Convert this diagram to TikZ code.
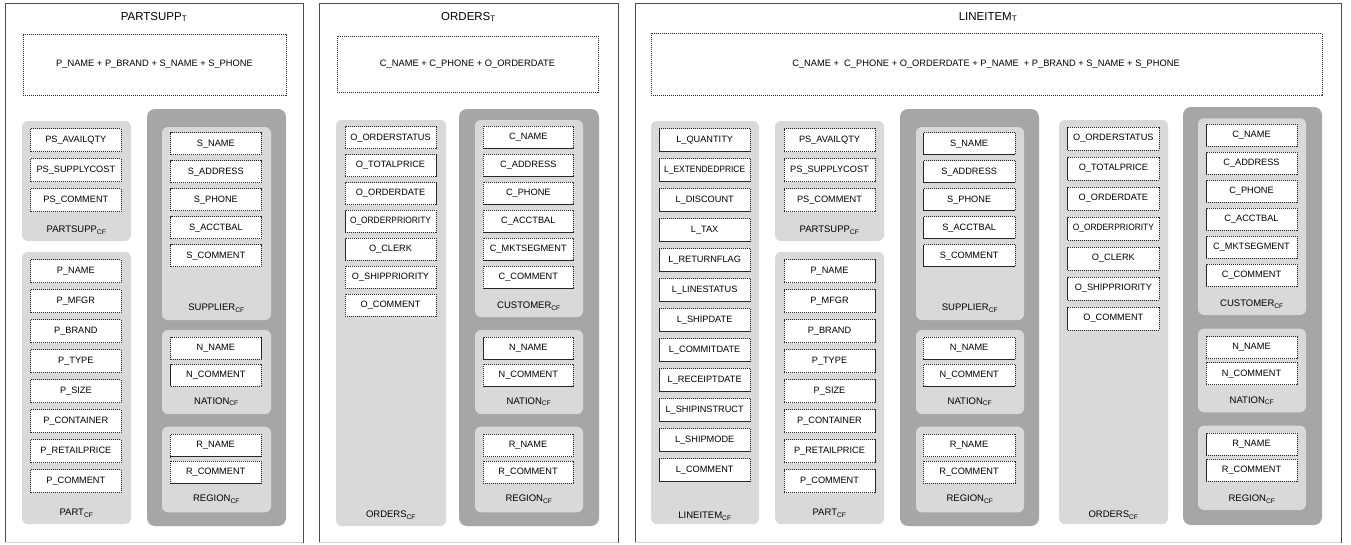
\documentclass[tikz,border=0pt]{standalone}
\usepackage{fontspec}
\setmainfont{Liberation Sans}
\definecolor{grpdark}{HTML}{A6A6A6}
\definecolor{grplight}{HTML}{D9D9D9}
\definecolor{frameline}{HTML}{4D4D4D}
\definecolor{frameedge}{HTML}{D0D0D0}

% a rectangle given by its corners (x1,y1)-(x2,y2)
\newcommand\grpbox[6]{\node[#6, minimum width={#4-#2}, minimum height={#5-#3}] (#1) at ({(#2+#4)/2},{(#3+#5)/2}) {};}
% attribute text, narrowed when it would not fit inside its box
\newsavebox\lblbox
\newcommand\fitlbl[1]{\sbox\lblbox{#1}\ifdim\wd\lblbox>81pt \resizebox{81pt}{\height}{\usebox\lblbox}\else\usebox\lblbox\fi}
% a column of dashed attribute boxes: name, xleft, xright, ytop, pitch, height, list
\newcommand\fieldcol[7]{%
  \foreach \t [count=\i from 0] in {#7} {
    \node[field, minimum width={#3-#2}, minimum height={#6}] (#1-\i) at ({(#2+#3)/2},{#4+\i*#5+#6/2}) {\fitlbl{\t}};
  }}
% open side of a panel
\newcommand\paneledge[1]{\draw[frameedge, line width=0.8pt] (#1.south west) -- (#1.south east);}

\begin{document}
\begin{tikzpicture}[x=1pt,y=-1pt,
  every node/.style={inner sep=0pt, outer sep=0pt},
  panel/.style={draw=frameline, line width=0.8pt, fill=white, rectangle},
  keybox/.style={draw=black!85, line width=0.5pt, dash pattern=on 1.2pt off 0.8pt, fill=white, rectangle},
  field/.style={draw=black!85, line width=0.5pt, dash pattern=on 1.2pt off 0.8pt, fill=white, rectangle, font=\fontsize{9.2}{11}\selectfont},
  darkgrp/.style={fill=grpdark, rounded corners=8pt, rectangle},
  lightgrp/.style={fill=grplight, rounded corners=6pt, rectangle},
  grplbl/.style={font=\fontsize{9.5}{11}\selectfont},
  ttl/.style={font=\fontsize{11.5}{13}\selectfont},
  keytxt/.style={font=\fontsize{9.3}{11}\selectfont}]

\useasboundingbox (0,0) rectangle (1351,544);
\fill[white] (0,0) rectangle (1351,544);

% ---------------- PARTSUPP_T ----------------
\grpbox{p1}{5}{3}{303}{542}{panel}
\paneledge{p1}
\node[ttl] (p1-title) at (154,17) {PARTSUPP\textsubscript{T}};
\grpbox{p1-key}{23}{34}{286}{95}{keybox}
\node[keytxt] (p1-keytxt) at (154.5,64.5) {P\_NAME + P\_BRAND + S\_NAME + S\_PHONE};

\grpbox{p1-ps}{22}{121}{131}{241}{lightgrp}
\fieldcol{p1-psf}{30.7}{121}{128.7}{30}{23}{PS\_AVAILQTY,PS\_SUPPLYCOST,PS\_COMMENT}
\node[grplbl] (p1-ps-lbl) at (76.5,230) {PARTSUPP\textsubscript{CF}};

\grpbox{p1-pa}{22}{252}{131}{524}{lightgrp}
\fieldcol{p1-paf}{30.7}{121}{259.5}{30}{23}{P\_NAME,P\_MFGR,P\_BRAND,P\_TYPE,P\_SIZE,P\_CONTAINER,P\_RETAILPRICE,P\_COMMENT}
\node[grplbl] (p1-pa-lbl) at (76.5,513) {PART\textsubscript{CF}};

\grpbox{p1-dk}{147}{109}{286}{526}{darkgrp}
\grpbox{p1-su}{162}{127}{271}{320}{lightgrp}
\fieldcol{p1-suf}{170.7}{261}{132.7}{28}{22}{S\_NAME,S\_ADDRESS,S\_PHONE,S\_ACCTBAL,S\_COMMENT}
\node[grplbl] (p1-su-lbl) at (216.5,308) {SUPPLIER\textsubscript{CF}};
\grpbox{p1-na}{162}{330}{271}{414}{lightgrp}
\fieldcol{p1-naf}{170.7}{261}{337.3}{26.7}{22}{N\_NAME,N\_COMMENT}
\node[grplbl] (p1-na-lbl) at (216.5,401.7) {NATION\textsubscript{CF}};
\grpbox{p1-re}{162}{426.7}{271}{512.3}{lightgrp}
\fieldcol{p1-ref}{170.3}{261}{434.3}{26.7}{22.4}{R\_NAME,R\_COMMENT}
\node[grplbl] (p1-re-lbl) at (216.5,499.3) {REGION\textsubscript{CF}};

% ---------------- ORDERS_T ----------------
\grpbox{p2}{319}{3}{618}{542}{panel}
\paneledge{p2}
\node[ttl] (p2-title) at (468.5,17) {ORDERS\textsubscript{T}};
\grpbox{p2-key}{337}{36}{598}{92}{keybox}
\node[keytxt] (p2-keytxt) at (467.5,64.5) {C\_NAME + C\_PHONE + O\_ORDERDATE};

\grpbox{p2-or}{336}{120}{446}{526}{lightgrp}
\fieldcol{p2-orf}{345}{436}{126.7}{27.9}{22}{O\_ORDERSTATUS,O\_TOTALPRICE,O\_ORDERDATE,O\_ORDERPRIORITY,O\_CLERK,O\_SHIPPRIORITY,O\_COMMENT}
\node[grplbl] (p2-or-lbl) at (391,515) {ORDERS\textsubscript{CF}};

\grpbox{p2-dk}{459}{109}{599}{526}{darkgrp}
\grpbox{p2-cu}{475}{120}{583}{317}{lightgrp}
\fieldcol{p2-cuf}{483.3}{573.3}{126}{28}{22}{C\_NAME,C\_ADDRESS,C\_PHONE,C\_ACCTBAL,C\_MKTSEGMENT,C\_COMMENT}
\node[grplbl] (p2-cu-lbl) at (529,306) {CUSTOMER\textsubscript{CF}};
\grpbox{p2-na}{475}{330}{583}{414}{lightgrp}
\fieldcol{p2-naf}{483.3}{573.3}{337.3}{26.7}{22}{N\_NAME,N\_COMMENT}
\node[grplbl] (p2-na-lbl) at (529,401.7) {NATION\textsubscript{CF}};
\grpbox{p2-re}{475}{426.7}{583}{512.3}{lightgrp}
\fieldcol{p2-ref}{483}{573}{434.3}{26.7}{22.4}{R\_NAME,R\_COMMENT}
\node[grplbl] (p2-re-lbl) at (529,499.3) {REGION\textsubscript{CF}};

% ---------------- LINEITEM_T ----------------
\grpbox{p3}{635}{3}{1341}{542}{panel}
\paneledge{p3}
\node[ttl] (p3-title) at (988,17) {LINEITEM\textsubscript{T}};
\grpbox{p3-key}{651}{33.3}{1322}{95.7}{keybox}
\node[keytxt] (p3-keytxt) at (986,64.5) {C\_NAME + \ C\_PHONE + O\_ORDERDATE + P\_NAME \ + P\_BRAND + S\_NAME + S\_PHONE};

\grpbox{p3-li}{651}{121}{759}{524}{lightgrp}
\fieldcol{p3-lif}{659.3}{750}{128.7}{30}{23}{L\_QUANTITY,L\_EXTENDEDPRICE,L\_DISCOUNT,L\_TAX,L\_RETURNFLAG,L\_LINESTATUS,L\_SHIPDATE,L\_COMMITDATE,L\_RECEIPTDATE,L\_SHIPINSTRUCT,L\_SHIPMODE,L\_COMMENT}
\node[grplbl] (p3-li-lbl) at (705,516) {LINEITEM\textsubscript{CF}};

\grpbox{p3-ps}{775}{121}{884}{241}{lightgrp}
\fieldcol{p3-psf}{784}{875}{128.7}{30}{23}{PS\_AVAILQTY,PS\_SUPPLYCOST,PS\_COMMENT}
\node[grplbl] (p3-ps-lbl) at (829.5,230) {PARTSUPP\textsubscript{CF}};

\grpbox{p3-pa}{775}{252}{884}{524}{lightgrp}
\fieldcol{p3-paf}{784}{875}{259.5}{30}{23}{P\_NAME,P\_MFGR,P\_BRAND,P\_TYPE,P\_SIZE,P\_CONTAINER,P\_RETAILPRICE,P\_COMMENT}
\node[grplbl] (p3-pa-lbl) at (829.5,513) {PART\textsubscript{CF}};

\grpbox{p3-dk1}{900}{109}{1039}{526}{darkgrp}
\grpbox{p3-su}{916}{127}{1024}{320}{lightgrp}
\fieldcol{p3-suf}{923.3}{1015}{132.7}{28}{22}{S\_NAME,S\_ADDRESS,S\_PHONE,S\_ACCTBAL,S\_COMMENT}
\node[grplbl] (p3-su-lbl) at (970,308) {SUPPLIER\textsubscript{CF}};
\grpbox{p3-na}{916}{330}{1024}{414}{lightgrp}
\fieldcol{p3-naf}{923.3}{1015}{337.3}{26.7}{22}{N\_NAME,N\_COMMENT}
\node[grplbl] (p3-na-lbl) at (970,401.7) {NATION\textsubscript{CF}};
\grpbox{p3-re}{916}{426.7}{1024}{512.3}{lightgrp}
\fieldcol{p3-ref}{923}{1015}{434.3}{26.7}{22.4}{R\_NAME,R\_COMMENT}
\node[grplbl] (p3-re-lbl) at (970,499.3) {REGION\textsubscript{CF}};

\grpbox{p3-or}{1059}{120}{1168}{524}{lightgrp}
\fieldcol{p3-orf}{1067.7}{1159}{127}{30}{23}{O\_ORDERSTATUS,O\_TOTALPRICE,O\_ORDERDATE,O\_ORDERPRIORITY,O\_CLERK,O\_SHIPPRIORITY,O\_COMMENT}
\node[grplbl] (p3-or-lbl) at (1113.5,515) {ORDERS\textsubscript{CF}};

\grpbox{p3-dk2}{1183}{107}{1322}{525}{darkgrp}
\grpbox{p3-cu}{1198}{118.3}{1306}{315}{lightgrp}
\fieldcol{p3-cuf}{1206}{1297}{124.3}{28}{22}{C\_NAME,C\_ADDRESS,C\_PHONE,C\_ACCTBAL,C\_MKTSEGMENT,C\_COMMENT}
\node[grplbl] (p3-cu-lbl) at (1252,304.3) {CUSTOMER\textsubscript{CF}};
\grpbox{p3-na2}{1198}{328.7}{1306}{412.3}{lightgrp}
\fieldcol{p3-naf2}{1206}{1297}{336.7}{26}{22}{N\_NAME,N\_COMMENT}
\node[grplbl] (p3-na2-lbl) at (1252,400.7) {NATION\textsubscript{CF}};
\grpbox{p3-re2}{1198}{425.7}{1306}{510}{lightgrp}
\fieldcol{p3-ref2}{1206}{1297}{433.3}{26}{22}{R\_NAME,R\_COMMENT}
\node[grplbl] (p3-re2-lbl) at (1252,499.3) {REGION\textsubscript{CF}};

\end{tikzpicture}
\end{document}
